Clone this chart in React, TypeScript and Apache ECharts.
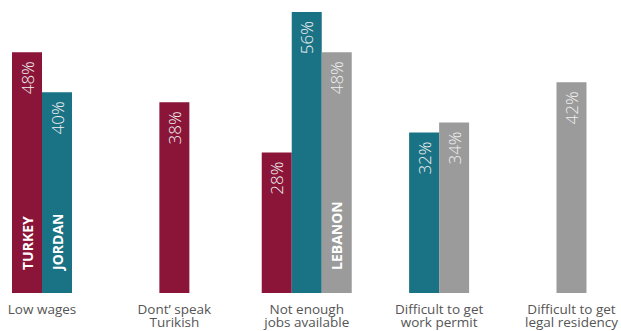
import React, { useEffect, useRef } from "react";
import * as echarts from "echarts";

const categories = [
  "Low wages",
  "Dont’ speak\nTurikish",
  "Not enough\njobs available",
  "Difficult to get\nwork permit",
  "Difficult to get\nlegal residency",
];
const seriesNames = ["TURKEY", "JORDAN", "LEBANON"];
const turkey: (number | null)[] = [48, 38, 28, null, null];
const jordan: (number | null)[] = [40, null, 56, 32, null];
const lebanon: (number | null)[] = [null, null, 48, 34, 42];

const allSeries = [turkey, jordan, lebanon];
const colors = ["#8a1538", "#1a7385", "#9b9b9b"];
const FONT = "'Open Sans', 'Noto Sans', sans-serif";

export default function App() {
  const ref = useRef<HTMLDivElement>(null);
  useEffect(() => {
    const chart = echarts.init(ref.current!, null, { renderer: "svg" });
    const BAR_W = 30;
    const makeRender = (sIdx: number) => (params: any, api: any) => {
      const cat = api.value(0);
      const val = api.value(1);
      const present = allSeries
        .map((s, i) => (s[cat] != null ? i : -1))
        .filter((i) => i >= 0);
      const k = present.indexOf(sIdx);
      const n = present.length;
      const base = api.coord([cat, 0]);
      const top = api.coord([cat, val]);
      const x0 = base[0] - (n * BAR_W) / 2 + k * BAR_W;
      const cx = x0 + BAR_W / 2;
      const children: any[] = [
        {
          type: "rect",
          shape: { x: x0, y: top[1], width: BAR_W, height: base[1] - top[1] },
          style: { fill: colors[sIdx] },
        },
        {
          type: "text",
          x: cx,
          y: top[1] + 9,
          rotation: Math.PI / 2,
          style: {
            text: val + "%",
            align: "right",
            verticalAlign: "middle",
            fill: "#f0f0f0",
            fontSize: 17,
            fontWeight: 300,
            fontFamily: FONT,
          },
        },
      ];
      const firstIdx = allSeries[sIdx].findIndex((v) => v != null);
      if (cat === firstIdx) {
        children.push({
          type: "text",
          x: cx,
          y: base[1] - 23,
          rotation: Math.PI / 2,
          style: {
            text: seriesNames[sIdx],
            align: "left",
            verticalAlign: "middle",
            fill: "#ffffff",
            fontSize: 14,
            fontWeight: "bold",
            fontFamily: FONT,
          },
        });
      }
      return { type: "group", children };
    };

    chart.setOption({
      animation: false,
      grid: { left: 42, right: 49, top: 2, bottom: 38, containLabel: false },
      xAxis: {
        type: "category",
        data: categories,
        boundaryGap: false,
        axisLine: { show: false },
        axisTick: { show: false },
        splitLine: { show: false },
        axisLabel: {
          color: "#555555",
          fontSize: 13.5,
          lineHeight: 13.5,
          margin: 9,
          fontFamily: FONT,
          interval: 0,
        },
      },
      yAxis: { type: "value", min: 0, max: 58, show: false },
      series: allSeries.map((s, sIdx) => ({
        type: "custom",
        name: seriesNames[sIdx],
        renderItem: makeRender(sIdx),
        encode: { x: 0, y: 1 },
        data: s
          .map((v, i) => (v == null ? null : [i, v]))
          .filter((d) => d != null),
      })),
    });
    return () => chart.dispose();
  }, []);
  return (
    <div
      ref={ref}
      style={{ position: "absolute", left: 0, top: 0, width: 621, height: 331 }}
    />
  );
}
